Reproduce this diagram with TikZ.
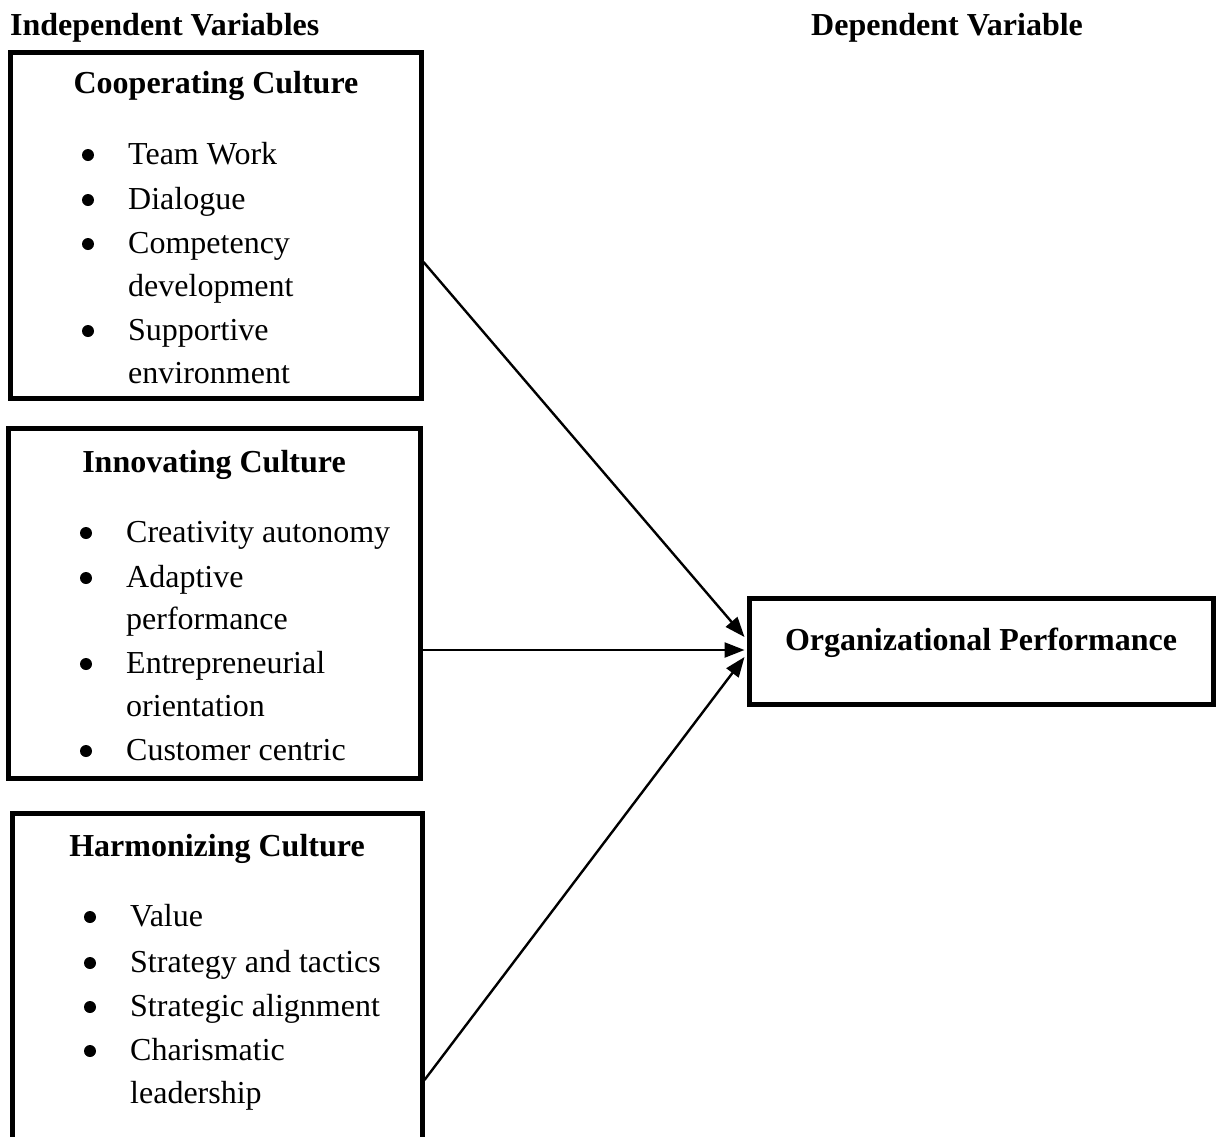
\documentclass[tikz,border=0pt]{standalone}
\usepackage{fontspec}
\setmainfont{Liberation Serif}
\usetikzlibrary{arrows.meta}
\begin{document}
\begin{tikzpicture}[x=1pt,y=-1pt,
  txt/.style={font=\fontsize{32}{43}\selectfont, inner sep=0pt, anchor=base west},
  ttl/.style={font=\fontsize{32}{43}\selectfont\bfseries, inner sep=0pt, anchor=base},
  bul/.style={circle, fill, inner sep=0pt, minimum size=12pt},
  box/.style={draw, line width=5pt, inner sep=0pt, rectangle},
  arr/.style={line width=2.4pt, -{Triangle[length=20pt,width=15pt]}}]
\useasboundingbox (0,0) rectangle (1216,1136);
\clip (0,0) rectangle (1216,1136);

% column headings
\node[txt, font=\fontsize{32}{43}\selectfont\bfseries] (hind) at (10,35) {Independent Variables};
\node[txt, font=\fontsize{32}{43}\selectfont\bfseries] (hdep) at (811,35) {Dependent Variable};

% boxes
\node[box, minimum width=411pt, minimum height=346pt] (b1) at (215.5,225) {};
\node[box, minimum width=412pt, minimum height=350pt] (b2) at (214,603) {};
\node[box, minimum width=410pt, minimum height=350pt] (b3) at (217,988) {};
\node[box, minimum width=464pt, minimum height=106pt] (org) at (981,651) {};

% cooperating culture
\node[ttl] (t1) at (216,93) {Cooperating Culture};
\foreach \n/\y in {a/164,b/209,c/253,d/340}
  \node[bul] (b1\n) at (88,\y-9) {};
\node[txt] (i1a) at (128,164) {Team Work};
\node[txt] (i1b) at (128,209) {Dialogue};
\node[txt] (i1c) at (128,253) {Competency};
\node[txt] (i1c2) at (128,296) {development};
\node[txt] (i1d) at (128,340) {Supportive};
\node[txt] (i1d2) at (128,383) {environment};

% innovating culture
\node[ttl] (t2) at (214,472) {Innovating Culture};
\foreach \n/\y in {a/542,b/587,c/673,d/760}
  \node[bul] (b2\n) at (86,\y-9) {};
\node[txt] (i2a) at (126,542) {Creativity autonomy};
\node[txt] (i2b) at (126,587) {Adaptive};
\node[txt] (i2b2) at (126,629) {performance};
\node[txt] (i2c) at (126,673) {Entrepreneurial};
\node[txt] (i2c2) at (126,716) {orientation};
\node[txt] (i2d) at (126,760) {Customer centric};

% harmonizing culture
\node[ttl] (t3) at (217,856) {Harmonizing Culture};
\foreach \n/\y in {a/926,b/972,c/1016,d/1060}
  \node[bul] (b3\n) at (90,\y-9) {};
\node[txt] (i3a) at (130,926) {Value};
\node[txt] (i3b) at (130,972) {Strategy and tactics};
\node[txt] (i3c) at (130,1016) {Strategic alignment};
\node[txt] (i3d) at (130,1060) {Charismatic};
\node[txt] (i3d2) at (130,1103) {leadership};

% dependent variable
\node[ttl] (to) at (981,650) {Organizational Performance};

% connectors
\coordinate (s1) at ([yshift=-37pt]b1.east);
\coordinate (s2) at ([yshift=-47pt]b2.east);
\coordinate (s3) at ([yshift=-92pt]b3.east);
\coordinate (e1) at ([xshift=-2pt,yshift=14pt]org.west);
\coordinate (e2) at ([xshift=-2pt,yshift=1pt]org.west);
\coordinate (e3) at ([xshift=-2pt,yshift=-6pt]org.west);
\draw[arr] (s1) -- (e1);
\draw[arr] (s2) -- (e2);
\draw[arr] (s3) -- (e3);
\end{tikzpicture}
\end{document}
